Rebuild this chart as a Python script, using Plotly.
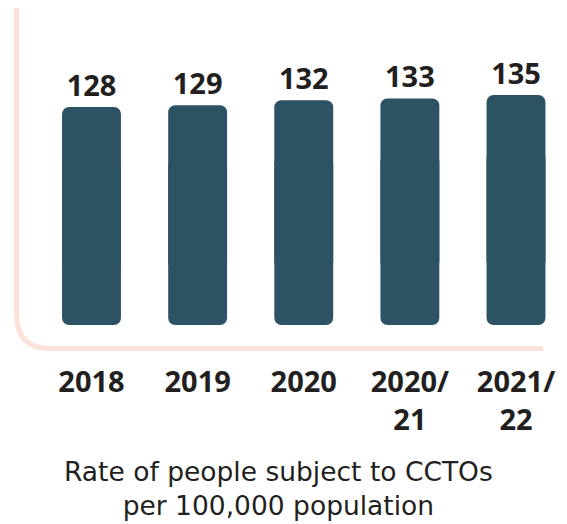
import plotly.graph_objects as go

# Chart data
categories = ["2018", "2019", "2020", "2020/<br>21", "2021/<br>22"]
rates = [128, 129, 132, 133, 135]

BAR_COLOR = "#2c5364"
TEXT_COLOR = "#231f20"
AXIS_COLOR = "#fde2da"
FONT = "Open Sans"
TITLE_FONT = "DejaVu Sans"

W, H = 567, 524
PLOT_H = 325  # plot area height in px (top margin 0)
Y_MAX = 190.8

# Each bar is drawn as two overlapping pieces so both ends get rounded corners
upper_base = [v * 0.25 for v in rates]
upper_len = [v - b for v, b in zip(rates, upper_base)]
lower_base = [v * 0.75 for v in rates]

fig = go.Figure()
# Upper piece: rounded top end, carries the value label
fig.add_trace(go.Bar(
    x=categories, y=upper_len, base=upper_base,
    marker=dict(color=BAR_COLOR, line=dict(width=0)),
    text=[str(v) for v in rates], texttemplate="<b>%{text}</b>",
    textposition="outside", cliponaxis=False,
    textfont=dict(family=FONT, size=29, color=TEXT_COLOR),
    hoverinfo="skip",
))
# Lower piece: rounded bottom end
fig.add_trace(go.Bar(
    x=categories, y=[-b for b in lower_base], base=lower_base,
    marker=dict(color=BAR_COLOR, line=dict(width=0)),
    hoverinfo="skip",
))

def px(x):
    return x / W

def py(y):
    return (PLOT_H - y) / PLOT_H

# Rounded L-shaped axis line
x0, ytop, ycorner, xend, r = 16.5, 8, 348.5, 543, 34
path = (
    f"M {px(x0)},{py(ytop)} L {px(x0)},{py(ycorner - r)} "
    f"Q {px(x0)},{py(ycorner)} {px(x0 + r)},{py(ycorner)} "
    f"L {px(xend)},{py(ycorner)}"
)

fig.update_layout(
    width=W, height=H,
    margin=dict(l=0, r=0, t=0, b=H - PLOT_H, pad=0),
    paper_bgcolor="white", plot_bgcolor="white",
    barmode="overlay",
    bargap=0.445,
    barcornerradius=7,
    showlegend=False,
    font=dict(family=FONT, color=TEXT_COLOR),
    xaxis=dict(
        type="category",
        range=[-91.5 / 106.125, (W - 91.5) / 106.125],
        showgrid=False, zeroline=False, showline=False, ticks="",
        tickfont=dict(family=FONT, size=29, color=TEXT_COLOR, weight="bold"),
        ticklabelstandoff=37,
    ),
    yaxis=dict(range=[0, Y_MAX], visible=False),
    shapes=[dict(
        type="path", path=path, xref="paper", yref="paper",
        line=dict(color=AXIS_COLOR, width=5), layer="below",
    )],
    annotations=[dict(
        text="Rate of people subject to CCTOs<br>per 100,000 population",
        x=px(278), y=py(488), xref="paper", yref="paper",
        xanchor="center", yanchor="middle", showarrow=False,
        font=dict(family=TITLE_FONT, size=26.5, color=TEXT_COLOR),
    )],
)

fig.write_html("out.html")
